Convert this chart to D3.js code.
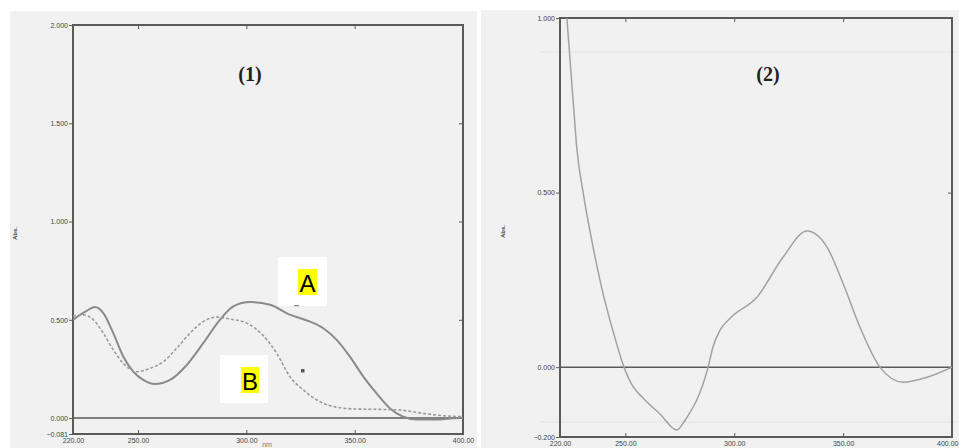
<!DOCTYPE html>
<html>
<head>
<meta charset="utf-8">
<script src="https://cdn.jsdelivr.net/npm/d3@7/dist/d3.min.js"></script>
<style>
  body { margin: 0; background: #fff; }
  svg { display: block; }
</style>
</head>
<body>
<svg width="959" height="448"></svg>
<script>
// panel (1): spectra A (solid) and B (dashed)
const wlA = [220, 225.5, 230.2, 234, 238.6, 243.2, 247.8, 252.4, 257.8, 264.8, 272.5, 280.1, 287.8, 294, 301.7, 310.9, 320.1, 329.4, 335.5, 341.7, 347.8, 354, 360.1, 366.3, 372.4, 378.6, 387.8, 394, 400];
const absA = [0.50, 0.54, 0.565, 0.534, 0.432, 0.313, 0.236, 0.194, 0.173, 0.194, 0.27, 0.381, 0.50, 0.568, 0.59, 0.577, 0.526, 0.491, 0.457, 0.398, 0.313, 0.211, 0.126, 0.049, 0.007, -0.007, -0.007, -0.002, 0.002];

const wlB = [220, 224.8, 229.4, 234, 238.6, 243.2, 249.4, 255.5, 261.7, 267.9, 274, 280.1, 286.3, 292.5, 300.2, 307.8, 314, 320.1, 326.3, 334, 341.7, 350.9, 363.2, 370.9, 381.6, 390.9, 400];
const absB = [0.52, 0.525, 0.50, 0.432, 0.347, 0.279, 0.236, 0.253, 0.287, 0.356, 0.432, 0.491, 0.514, 0.504, 0.483, 0.42, 0.33, 0.211, 0.143, 0.083, 0.055, 0.046, 0.044, 0.041, 0.024, 0.012, 0.007];

// panel (2): derivative-like spectrum
const wl2 = [220, 223.2, 226, 227.8, 230.6, 235, 240, 244.5, 249.4, 253.5, 258.1, 265.9, 273.7, 277.4, 288, 290.2, 293.5, 298.1, 310.4, 322.4, 333.4, 342.6, 349.9, 357.7, 366.9, 377.5, 388.5, 400];
const abs2 = [1.25, 0.997, 0.765, 0.622, 0.501, 0.35, 0.205, 0.10, 0, -0.055, -0.088, -0.134, -0.18, -0.152, 0, 0.057, 0.106, 0.140, 0.20, 0.315, 0.39, 0.344, 0.241, 0.115, 0, -0.043, -0.029, 0];

const xTicks = [220, 250, 300, 350, 400];
const yTicks1 = [2.0, 1.5, 1.0, 0.5, 0.0, -0.081];
const yTicks2 = [1.0, 0.5, 0.0, -0.2];

const svg = d3.select('svg');
const axisColor = '#5a5a5a';

// scanned paper background
svg.append('rect').attr('x', 10).attr('y', 11).attr('width', 467).attr('height', 437).attr('fill', '#f1f1f1');
svg.append('rect').attr('x', 481).attr('y', 10).attr('width', 478).attr('height', 438).attr('fill', '#f1f1f1');

function drawPanel(opts) {
    const x = d3.scaleLinear().domain([220, 400]).range(opts.xr);
    const y = d3.scaleLinear().domain(opts.yd).range(opts.yr);
    const g = svg.append('g');

    (opts.ghost || []).forEach(gy => {
        g.append('line')
            .attr('x1', opts.xr[0] - 20).attr('x2', opts.xr[1] + 4)
            .attr('y1', gy).attr('y2', gy)
            .attr('stroke', '#e2e2e2').attr('stroke-width', 1);
    });

    const clipId = 'clip' + opts.id;
    svg.append('clipPath').attr('id', clipId).append('rect')
        .attr('x', opts.xr[0]).attr('y', opts.yr[1])
        .attr('width', opts.xr[1] - opts.xr[0]).attr('height', opts.yr[0] - opts.yr[1]);

    // axes
    g.append('g').attr('transform', `translate(${opts.xr[0]},0)`)
        .call(d3.axisLeft(y).tickValues(opts.yTicks).tickSize(4).tickPadding(1).tickFormat(d3.format('.3f')));
    const bottom = g.append('g').attr('transform', `translate(0,${opts.yr[0]})`)
        .call(d3.axisBottom(x).tickValues(xTicks).tickSize(-4).tickPadding(4).tickFormat(d3.format('.2f')));
    g.append('g').attr('transform', `translate(0,${opts.yr[1]})`)
        .call(d3.axisTop(x).tickValues([250, 300, 350]).tickSize(-4).tickFormat(''));
    g.append('g').attr('transform', `translate(${opts.xr[1]},0)`)
        .call(d3.axisRight(y).tickValues(opts.yTicks.slice(1, -1).filter(v => v !== 0)).tickSize(-4).tickFormat(''));
    g.selectAll('.domain').remove();
    g.selectAll('.tick line').attr('stroke', axisColor).attr('stroke-width', 1);
    g.selectAll('.tick text')
        .attr('fill', '#444')
        .style('font-family', '"Liberation Sans", Arial, sans-serif')
        .style('font-size', '7px');
    // last x label sits on the right edge of the picture
    if (opts.lastLabelEnd) {
        bottom.selectAll('.tick').filter(d => d === 400).select('text')
            .attr('text-anchor', 'end').attr('x', opts.lastLabelEnd - x(400));
    }

    // frame and zero line
    g.append('rect')
        .attr('x', opts.xr[0]).attr('y', opts.yr[1])
        .attr('width', opts.xr[1] - opts.xr[0]).attr('height', opts.yr[0] - opts.yr[1])
        .attr('fill', 'none').attr('stroke', axisColor).attr('stroke-width', 2);
    g.append('line')
        .attr('x1', opts.xr[0]).attr('x2', opts.xr[1])
        .attr('y1', y(0)).attr('y2', y(0))
        .attr('stroke', axisColor).attr('stroke-width', 1.5);

    // curves
    const line = d3.line().x(d => x(d[0])).y(d => y(d[1])).curve(d3.curveMonotoneX);
    opts.series.forEach(s => {
        g.append('path')
            .datum(d3.zip(s.wl, s.abs))
            .attr('clip-path', `url(#${clipId})`)
            .attr('d', line)
            .attr('fill', 'none')
            .attr('stroke', s.color)
            .attr('stroke-width', s.width)
            .attr('stroke-dasharray', s.dash || null);
    });

    // title
    g.append('text')
        .attr('x', opts.titleX).attr('y', 81)
        .attr('text-anchor', 'middle')
        .style('font-family', '"Liberation Serif", "Times New Roman", serif')
        .style('font-weight', 'bold').style('font-size', '20px')
        .attr('fill', '#222')
        .text(opts.title);

    // y label
    g.append('text')
        .attr('transform', `translate(${opts.absX},${(opts.yr[0] + opts.yr[1]) / 2 + 4}) rotate(-90)`)
        .attr('text-anchor', 'middle')
        .style('font-family', '"Liberation Sans", Arial, sans-serif')
        .style('font-size', '6px').style('font-weight', 'bold')
        .attr('fill', '#444')
        .text('Abs.');

    return { x, y, g };
}

drawPanel({
    id: 1, xr: [73, 463], yd: [-0.081, 2.0], yr: [434, 25], yTicks: yTicks1,
    title: '(1)', titleX: 250, absX: 17,
    series: [
        { wl: wlA, abs: absA, color: '#8a8a8a', width: 2 },
        { wl: wlB, abs: absB, color: '#9a9a9a', width: 1.6, dash: '3,2' }
    ]
});

drawPanel({
    id: 2, xr: [560, 952], yd: [-0.2, 1.0], yr: [437, 18], yTicks: yTicks2,
    title: '(2)', titleX: 768, absX: 505, ghost: [52, 422], lastLabelEnd: 958,
    series: [
        { wl: wl2, abs: abs2, color: '#a2a2a2', width: 1.5 }
    ]
});

// x-axis unit, sitting at the bottom edge
svg.append('text').attr('x', 267).attr('y', 447).attr('text-anchor', 'middle')
    .style('font-family', '"Liberation Sans", Arial, sans-serif').style('font-size', '7px')
    .attr('fill', '#777').text('nm');

// series labels A / B
function seriesLabel(box, hl, txt) {
    svg.append('rect').attr('x', box[0]).attr('y', box[1]).attr('width', box[2]).attr('height', box[3]).attr('fill', '#fff');
    svg.append('rect').attr('x', hl[0]).attr('y', hl[1]).attr('width', hl[2]).attr('height', hl[3]).attr('fill', '#ffff00');
    svg.append('text')
        .attr('x', hl[0] + hl[2] / 2).attr('y', hl[1] + hl[3] - 3)
        .attr('text-anchor', 'middle')
        .style('font-family', '"Liberation Sans", Arial, sans-serif').style('font-size', '24px')
        .attr('fill', '#000').text(txt);
}
seriesLabel([278, 257, 49, 49], [298, 269, 19, 26], 'A');
seriesLabel([220, 355, 48, 48], [241, 367, 18, 26], 'B');

// small stray marks from the original trace
svg.append('rect').attr('x', 294).attr('y', 305).attr('width', 5).attr('height', 1.2).attr('fill', '#888');
svg.append('rect').attr('x', 301).attr('y', 369).attr('width', 3.5).attr('height', 3.5).attr('fill', '#555');
</script>
</body>
</html>
